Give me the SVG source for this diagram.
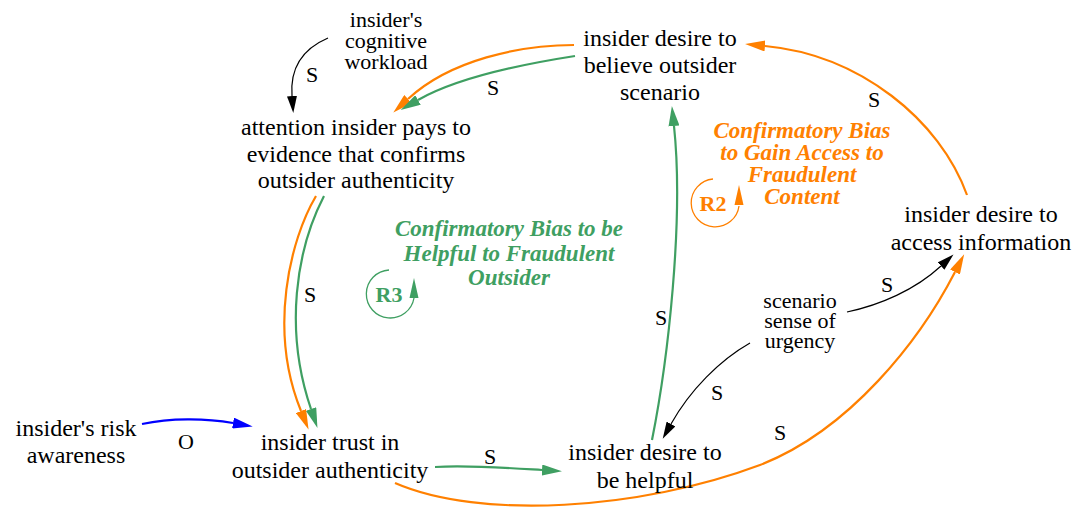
<svg xmlns="http://www.w3.org/2000/svg" width="1079" height="510" viewBox="0 0 1079 510" font-family="'Liberation Serif', 'DejaVu Serif', serif">
  <style>
    text { font-family: "Liberation Serif", "DejaVu Serif", serif; }
    .node text { font-size: 24px; fill: #000; text-anchor: middle; }
    .node.tight text { font-size: 22px; }
    .lbl { font-size: 22px; fill: #000; text-anchor: middle; }
    .edge { fill: none; }
    .blk { stroke: #000; stroke-width: 1.2; }
    .org { stroke: #ff8000; stroke-width: 2.2; }
    .grn { stroke: #3f9f62; stroke-width: 2.2; }
    .blu { stroke: #0000ff; stroke-width: 2.2; }
    .loop-title { font-size: 23px; font-weight: bold; font-style: italic; text-anchor: middle; }
    .loop-id { font-size: 22px; font-weight: bold; text-anchor: middle; }
  </style>
  <defs>
    <marker id="ah-blk" viewBox="0 0 17 10" refX="0" refY="5" markerWidth="17" markerHeight="10" markerUnits="userSpaceOnUse" orient="auto">
      <path d="M0,0 L17,5 L0,10 z" fill="#000"/>
    </marker>
    <marker id="ah-org" viewBox="0 0 20 11" refX="0" refY="5.5" markerWidth="20" markerHeight="11" markerUnits="userSpaceOnUse" orient="auto">
      <path d="M0,0 L20,5.5 L0,11 z" fill="#ff8000"/>
    </marker>
    <marker id="ah-grn" viewBox="0 0 20 11" refX="0" refY="5.5" markerWidth="20" markerHeight="11" markerUnits="userSpaceOnUse" orient="auto">
      <path d="M0,0 L20,5.5 L0,11 z" fill="#3f9f62"/>
    </marker>
    <marker id="ah-blu" viewBox="0 0 20 11" refX="0" refY="5.5" markerWidth="20" markerHeight="11" markerUnits="userSpaceOnUse" orient="auto">
      <path d="M0,0 L20,5.5 L0,11 z" fill="#0000ff"/>
    </marker>
  </defs>

  <rect width="1079" height="510" fill="#fff"/>

  <!-- connectors -->
  <g id="edges">
    <path class="edge blk" d="M328,38 C300,50 290,70 292,96" marker-end="url(#ah-blk)"/>
    <text class="lbl" x="312" y="82">S</text>

    <path class="edge org" d="M574,45 C520,45 450,60 408,99" marker-end="url(#ah-org)"/>
    <path class="edge grn" d="M575,56 C530,63 460,76 418,100" marker-end="url(#ah-grn)"/>
    <text class="lbl" x="493" y="95">S</text>

    <path class="edge org" d="M316,196 C290,240 268,330 301,411" marker-end="url(#ah-org)"/>
    <path class="edge grn" d="M324,196 C296,250 284,330 311,409" marker-end="url(#ah-grn)"/>
    <text class="lbl" x="310" y="302">S</text>

    <path class="edge blu" d="M142,424 C170,418 205,418 233,423" marker-end="url(#ah-blu)"/>
    <text class="lbl" x="186" y="449">O</text>

    <path class="edge grn" d="M435,467 C470,465 510,468 542,470" marker-end="url(#ah-grn)"/>
    <text class="lbl" x="490" y="464">S</text>

    <path class="edge org" d="M395,483 C480,520 640,510 760,465 C850,430 920,340 955,272" marker-end="url(#ah-org)"/>
    <text class="lbl" x="780" y="440">S</text>

    <path class="edge grn" d="M652,440 C668,360 684,220 674,126" marker-end="url(#ah-grn)"/>
    <text class="lbl" x="661" y="325">S</text>

    <path class="edge org" d="M967,195 C940,120 860,55 765,46" marker-end="url(#ah-org)"/>
    <text class="lbl" x="874" y="107">S</text>

    <path class="edge blk" d="M847,312 C880,305 915,290 941,266" marker-end="url(#ah-blk)"/>
    <text class="lbl" x="887" y="292">S</text>

    <path class="edge blk" d="M750,343 C720,360 690,390 671,424" marker-end="url(#ah-blk)"/>
    <text class="lbl" x="717" y="400">S</text>
  </g>

  <!-- variables -->
  <g id="n-cognitive" class="node tight">
    <text x="386" y="27">insider's</text>
    <text x="386" y="48">cognitive</text>
    <text x="386" y="69">workload</text>
  </g>
  <g id="n-attention" class="node">
    <text x="356" y="135">attention insider pays to</text>
    <text x="356" y="162">evidence that confirms</text>
    <text x="356" y="188">outsider authenticity</text>
  </g>
  <g id="n-believe" class="node">
    <text x="660" y="46">insider desire to</text>
    <text x="660" y="73">believe outsider</text>
    <text x="660" y="100">scenario</text>
  </g>
  <g id="n-access" class="node">
    <text x="981" y="222">insider desire to</text>
    <text x="981" y="250">access information</text>
  </g>
  <g id="n-urgency" class="node tight">
    <text x="800" y="308">scenario</text>
    <text x="800" y="328">sense of</text>
    <text x="800" y="348">urgency</text>
  </g>
  <g id="n-risk" class="node">
    <text x="76" y="436">insider's risk</text>
    <text x="76" y="463">awareness</text>
  </g>
  <g id="n-trust" class="node">
    <text x="330" y="450">insider trust in</text>
    <text x="330" y="478">outsider authenticity</text>
  </g>
  <g id="n-helpful" class="node">
    <text x="645" y="460">insider desire to</text>
    <text x="645" y="488">be helpful</text>
  </g>

  <!-- loop R2 -->
  <g id="loop-r2" fill="#ff8000">
    <path d="M713,179 A24,24 0 1 0 739,206" fill="none" stroke="#ff8000" stroke-width="1.3"/>
    <path d="M739,185 L743.5,205 L734.5,205 z"/>
    <text class="loop-id" x="713" y="211">R2</text>
    <text class="loop-title" x="802" y="138">Confirmatory Bias</text>
    <text class="loop-title" x="802" y="160">to Gain Access to</text>
    <text class="loop-title" x="802" y="182">Fraudulent</text>
    <text class="loop-title" x="802" y="204">Content</text>
  </g>

  <!-- loop R3 -->
  <g id="loop-r3" fill="#3f9f62">
    <path d="M389,270 A24,24 0 1 0 414,298" fill="none" stroke="#3f9f62" stroke-width="1.3"/>
    <path d="M414,278 L418.5,298 L409.5,298 z"/>
    <text class="loop-id" x="389" y="302">R3</text>
    <text class="loop-title" x="509" y="236">Confirmatory Bias to be</text>
    <text class="loop-title" x="509" y="261">Helpful to Fraudulent</text>
    <text class="loop-title" x="509" y="285">Outsider</text>
  </g>
</svg>
